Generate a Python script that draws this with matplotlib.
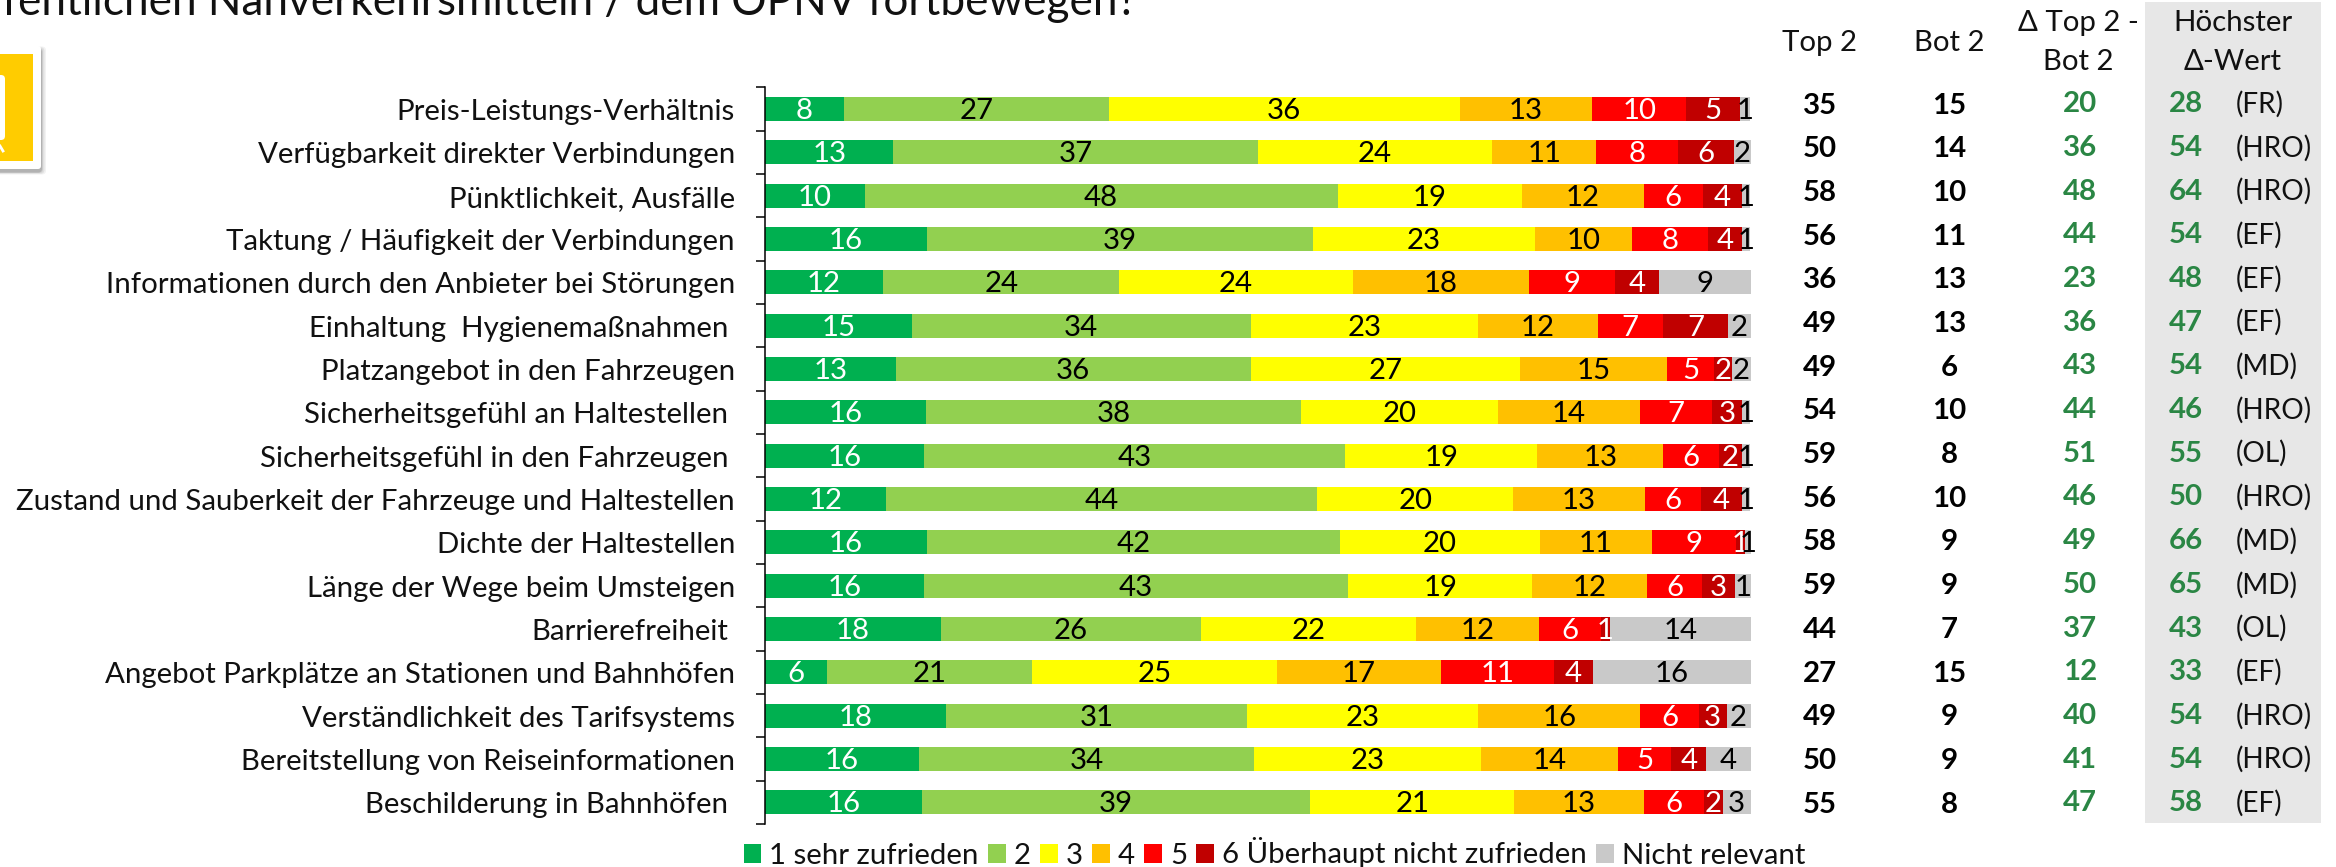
import matplotlib
matplotlib.use("Agg")
import matplotlib.pyplot as plt
from matplotlib.patches import Rectangle, FancyBboxPatch
import numpy as np

plt.rcParams['font.family'] = ['Lato', 'DejaVu Sans']

W, H = 2336, 867

categories = ["Preis-Leistungs-Verhältnis", "Verfügbarkeit direkter Verbindungen", "Pünktlichkeit, Ausfälle",
              "Taktung / Häufigkeit der Verbindungen", "Informationen durch den Anbieter bei Störungen",
              "Einhaltung  Hygienemaßnahmen", "Platzangebot in den Fahrzeugen", "Sicherheitsgefühl an Haltestellen",
              "Sicherheitsgefühl in den Fahrzeugen", "Zustand und Sauberkeit der Fahrzeuge und Haltestellen",
              "Dichte der Haltestellen", "Länge der Wege beim Umsteigen", "Barrierefreiheit",
              "Angebot Parkplätze an Stationen und Bahnhöfen", "Verständlichkeit des Tarifsystems",
              "Bereitstellung von Reiseinformationen", "Beschilderung in Bahnhöfen"]
trailing_space = [0, 0, 0, 0, 0, 1, 0, 1, 1, 0, 0, 0, 1, 0, 0, 0, 1]

s1 = [7.98, 13.03, 10.11, 16.45, 11.97, 14.89, 13.25, 16.31, 16.10, 12.32, 16.45, 16.10, 17.81, 6.34, 18.38, 15.60, 15.95]
s2 = [26.9, 36.97, 48.0, 39.17, 24.0, 34.4, 36.04, 38.1, 42.8, 43.73, 41.88, 43.09, 26.42, 20.73, 30.56, 34.05, 39.39]
s3 = [35.6, 23.8, 18.73, 22.5, 23.65, 23.08, 27.35, 20.01, 19.44, 19.87, 20.3, 18.66, 21.87, 24.86, 23.43, 23.0, 20.66]
s4 = [13.46, 10.54, 12.32, 9.9, 17.95, 12.11, 14.89, 14.32, 12.82, 13.39, 11.4, 11.68, 12.39, 16.67, 16.45, 13.89, 13.18]
s5 = [9.54, 8.33, 5.98, 7.62, 8.69, 6.62, 4.77, 7.34, 5.63, 5.7, 8.48, 5.56, 6.34, 11.47, 5.91, 5.41, 6.13]
s6 = [5.41, 5.63, 3.99, 3.49, 4.49, 6.62, 1.78, 3.06, 2.35, 4.13, 0.93, 3.35, 0.93, 3.92, 2.85, 3.56, 1.85]
s7 = [1.07, 1.71, 0.85, 0.85, 9.26, 2.28, 1.92, 0.85, 0.85, 0.85, 0.57, 1.57, 14.25, 16.03, 2.42, 4.49, 2.85]

l1 = [8, 13, 10, 16, 12, 15, 13, 16, 16, 12, 16, 16, 18, 6, 18, 16, 16]
l2 = [27, 37, 48, 39, 24, 34, 36, 38, 43, 44, 42, 43, 26, 21, 31, 34, 39]
l3 = [36, 24, 19, 23, 24, 23, 27, 20, 19, 20, 20, 19, 22, 25, 23, 23, 21]
l4 = [13, 11, 12, 10, 18, 12, 15, 14, 13, 13, 11, 12, 12, 17, 16, 14, 13]
l5 = [10, 8, 6, 8, 9, 7, 5, 7, 6, 6, 9, 6, 6, 11, 6, 5, 6]
l6 = [5, 6, 4, 4, 4, 7, 2, 3, 2, 4, 1, 3, 1, 4, 3, 4, 2]
l7 = [1, 2, 1, 1, 9, 2, 2, 1, 1, 1, 1, 1, 14, 16, 2, 4, 3]

series_names = ["1 sehr zufrieden", "2", "3", "4", "5", "6 Überhaupt nicht zufrieden", "Nicht relevant"]
colors = ["#00B050", "#92D050", "#FFFF00", "#FFC000", "#FF0000", "#C00000", "#C9C9C9"]
label_colors = ["white", "black", "black", "black", "white", "white", "black"]

top2 = [35, 50, 58, 56, 36, 49, 49, 54, 59, 56, 58, 59, 44, 27, 49, 50, 55]
bot2 = [15, 14, 10, 11, 13, 13, 6, 10, 8, 10, 9, 9, 7, 15, 9, 9, 8]
delta = [20, 36, 48, 44, 23, 36, 43, 44, 51, 46, 49, 50, 37, 12, 40, 41, 47]
highest = [28, 54, 64, 54, 48, 47, 54, 46, 55, 50, 66, 65, 43, 33, 54, 54, 58]
regions = ["FR", "HRO", "HRO", "EF", "EF", "EF", "MD", "HRO", "OL", "HRO", "MD", "MD", "OL", "EF", "HRO", "HRO", "EF"]

title = "öffentlichen Nahverkehrsmitteln / dem ÖPNV fortbewegen?"

FS = 21.2
GREEN = "#2A8644"

fig = plt.figure(figsize=(W / 100, H / 100), dpi=100, facecolor="white")

# overlay in pixel coordinates for page furniture
ov = fig.add_axes([0, 0, 1, 1], zorder=0)
ov.set_xlim(0, W)
ov.set_ylim(H, 0)
ov.axis("off")

ov.add_patch(Rectangle((2145, 2), 176, 821, fc="#E7E7E7", ec="none"))

# icon card (shadow, card, yellow field, partly cut glyph)
for grow, a in [(5, 0.05), (3.5, 0.07), (2, 0.09), (1, 0.12)]:
    ov.add_patch(FancyBboxPatch((-40 + 1, 46 + 3 - grow / 2), 80 + grow, 123 + grow,
                                boxstyle="round,pad=0,rounding_size=4", fc="black", ec="none", alpha=a))
ov.add_patch(FancyBboxPatch((-40, 46), 81, 123, boxstyle="round,pad=0,rounding_size=3", fc="white", ec="none"))
ov.add_patch(Rectangle((-40, 54), 73, 107, fc="#FFCC00", ec="none"))
ov.add_patch(FancyBboxPatch((-20, 75), 25, 65, boxstyle="round,pad=0,rounding_size=4", fc="white", ec="none"))
ov.plot([0, 3], [146, 151], color="white", lw=2)

ov.text(1137, 15, title, ha="right", va="baseline", fontsize=31.8, color="#111111", clip_on=True)

# headers
hdr = dict(ha="center", va="center", fontsize=FS, color="#111111")
ov.text(1820, 43, "Top 2", **hdr)
ov.text(1949.5, 43, "Bot 2", **hdr)
ov.text(2078, 23, "Δ Top 2 -", **hdr)
ov.text(2078, 62, "Bot 2", **hdr)
ov.text(2233, 23, "Höchster", **hdr)
ov.text(2233, 62, "Δ-Wert", **hdr)

# main stacked bars
x0, x1, y0, y1 = 765, 1750.5, 87.3, 824
ax = fig.add_axes([x0 / W, 1 - y1 / H, (x1 - x0) / W, (y1 - y0) / H], zorder=2)
ax.patch.set_alpha(0)
n = len(categories)
ypos = np.arange(n) + 0.5
ax.set_xlim(0, 100)
ax.set_ylim(n, 0)

series = [s1, s2, s3, s4, s5, s6, s7]
labels = [l1, l2, l3, l4, l5, l6, l7]
left = np.zeros(n)
handles = []
for vals, labs, col, lcol, name in zip(series, labels, colors, label_colors, series_names):
    vals = np.array(vals)
    bars = ax.barh(ypos, vals, left=left, height=0.553, color=col, edgecolor="none", label=name)
    handles.append(bars)
    for y, v, l, lab in zip(ypos, vals, left, labs):
        ax.text(l + v / 2, y + 0.05, str(lab), ha="center", va="center", fontsize=FS, color=lcol, clip_on=False, zorder=5)
    left += vals

for sp in ["top", "right", "bottom"]:
    ax.spines[sp].set_visible(False)
ax.spines["left"].set_linewidth(1.1)
ax.set_yticks(np.arange(n + 1))
ax.set_yticklabels([])
ax.set_xticks([])
ax.tick_params(axis="y", length=6.5, width=1.1, color="black")

for y, c, t in zip(ypos, categories, trailing_space):
    xp = 735 - 7 * t
    ax.annotate(c, xy=(xp, 0), xycoords=("figure pixels", "data"), xytext=(xp, y + 0.07),
                textcoords=("figure pixels", "data"), ha="right", va="center", fontsize=FS, color="#111111",
                annotation_clip=False)

# table columns
ty0, dy = 105.5, 43.7
tb = fig.add_axes([0, 1 - (ty0 + 16.5 * dy) / H, 1, 17 * dy / H], zorder=1)
tb.set_xlim(0, W)
tb.set_ylim(16.5, -0.5)
tb.axis("off")
for i in range(n):
    tb.text(1820, i, str(top2[i]), ha="center", va="center", fontsize=FS, fontweight="bold", color="black")
    tb.text(1949.5, i, str(bot2[i]), ha="center", va="center", fontsize=FS, fontweight="bold", color="black")
    tb.text(2080, i - 0.03, str(delta[i]), ha="center", va="center", fontsize=FS, fontweight="bold", color=GREEN)
    tb.text(2186, i - 0.03, str(highest[i]), ha="center", va="center", fontsize=FS, fontweight="bold", color=GREEN)
    tb.text(2235.5, i - 0.03, f"({regions[i]})", ha="left", va="center", fontsize=20.2, color="#111111")

# legend
leg = ov.legend(handles, series_names, loc="center left", bbox_to_anchor=(743.5, 853), bbox_transform=ov.transData,
                ncol=7, frameon=False, fontsize=FS, handlelength=0.61, handleheight=0.61, handletextpad=0.27,
                columnspacing=0.31, borderpad=0, borderaxespad=0, labelcolor="#111111")

fig.savefig("out.png", dpi=100)
